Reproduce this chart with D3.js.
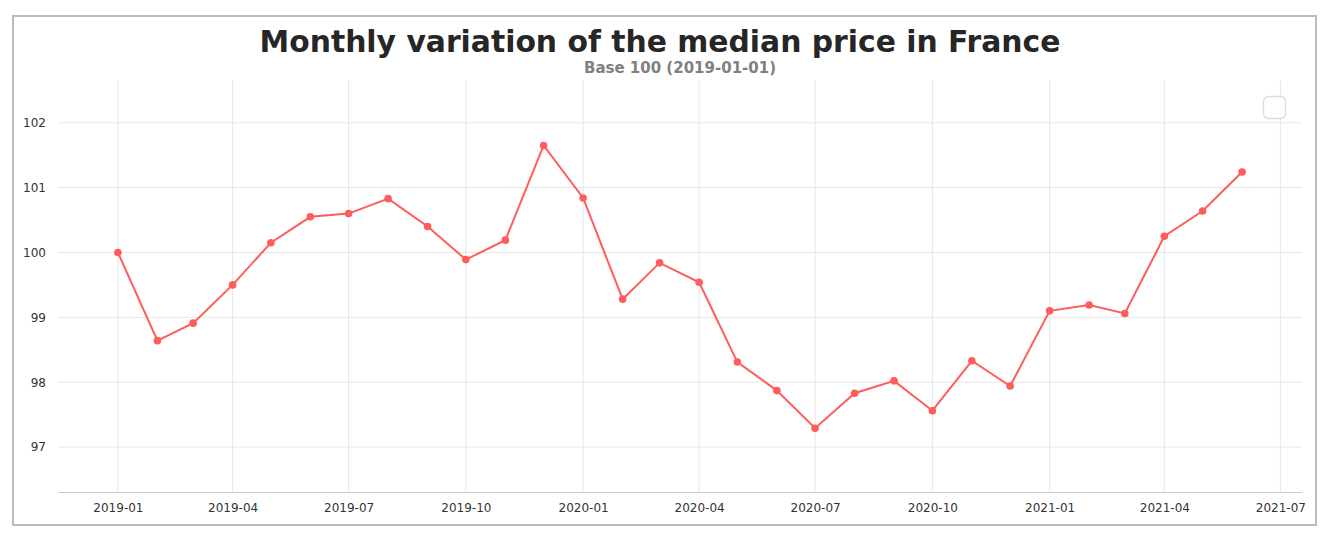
<!DOCTYPE html>
<html>
<head>
<meta charset="utf-8">
<script src="https://cdn.jsdelivr.net/npm/d3@7"></script>
<style>
  body { margin: 0; background: #fff; font-family: "DejaVu Sans", sans-serif; }
</style>
</head>
<body>
<div id="chartContainer"></div>
<script>
// monthly dates and index values (base 100 at 2019-01-01)
var months = ["2019-01","2019-02","2019-03","2019-04","2019-05","2019-06","2019-07","2019-08","2019-09","2019-10","2019-11","2019-12",
  "2020-01","2020-02","2020-03","2020-04","2020-05","2020-06","2020-07","2020-08","2020-09","2020-10","2020-11","2020-12",
  "2021-01","2021-02","2021-03","2021-04","2021-05","2021-06"]
var values = [100.0, 98.64, 98.91, 99.50, 100.15, 100.55, 100.60, 100.83, 100.40, 99.89, 100.19, 101.65,
  100.84, 99.28, 99.84, 99.54, 98.31, 97.87, 97.29, 97.83, 98.02, 97.56, 98.33, 97.94,
  99.10, 99.19, 99.06, 100.25, 100.64, 101.24]
var yTicks = [97, 98, 99, 100, 101, 102]
var xTicks = ["2019-01","2019-04","2019-07","2019-10","2020-01","2020-04","2020-07","2020-10","2021-01","2021-04","2021-07"]

var parse = d3.timeParse("%Y-%m")
var data = months.map((m, i) => ({date: parse(m), value: values[i]}))

var W = 1342, H = 544
var margin = {top: 80, right: 40, bottom: 52, left: 58}
var width = W - margin.left - margin.right
var height = H - margin.top - margin.bottom

var svg = d3.select("#chartContainer").append("svg")
  .attr("width", W)
  .attr("height", H)

// outer frame
svg.append("rect")
  .attr("x", 13).attr("y", 16)
  .attr("width", 1303).attr("height", 509)
  .attr("fill", "none")
  .attr("stroke", "#bbb")
  .attr("stroke-width", 2)

svg.append("text")
  .attr("x", 660).attr("y", 52)
  .attr("text-anchor", "middle")
  .attr("font-size", 29.8)
  .attr("font-weight", "bold")
  .attr("fill", "#262626")
  .text("Monthly variation of the median price in France")

svg.append("text")
  .attr("x", 680).attr("y", 73)
  .attr("text-anchor", "middle")
  .attr("font-size", 15)
  .attr("font-weight", "bold")
  .attr("fill", "#808080")
  .text("Base 100 (2019-01-01)")

var g = svg.append("g")
  .attr("transform", "translate(" + margin.left + "," + margin.top + ")")

var x = d3.scaleTime()
  .domain([new Date(2018, 10, 15), new Date(2021, 6, 18)])
  .range([0, width])

var y = d3.scaleLinear()
  .domain([96.306, 102.66])
  .range([height, 0])

// grid
g.selectAll(".vgrid")
  .data(xTicks)
  .enter().append("line")
  .attr("x1", d => x(parse(d))).attr("x2", d => x(parse(d)))
  .attr("y1", 0).attr("y2", height)
  .attr("stroke", "#e6e6e6")

g.selectAll(".hgrid")
  .data(yTicks)
  .enter().append("line")
  .attr("x1", 0).attr("x2", width)
  .attr("y1", d => y(d)).attr("y2", d => y(d))
  .attr("stroke", "#e6e6e6")

// X axis
var xAxis = g.append("g")
  .attr("transform", "translate(0," + height + ")")
  .call(d3.axisBottom(x).tickValues(xTicks.map(parse)).tickFormat(d3.timeFormat("%Y-%m")).tickSize(0).tickPadding(11))
xAxis.select(".domain").attr("stroke", "#ccc")
xAxis.selectAll("text").attr("font-size", 12).attr("fill", "#333").attr("font-family", "DejaVu Sans")

// Y axis
var yAxis = g.append("g")
  .call(d3.axisLeft(y).tickValues(yTicks).tickFormat(d3.format("d")).tickSize(0).tickPadding(12))
yAxis.select(".domain").remove()
yAxis.selectAll("text").attr("font-size", 12).attr("fill", "#333").attr("font-family", "DejaVu Sans")

// line
var line = d3.line()
  .x(d => x(d.date))
  .y(d => y(d.value))

g.append("path")
  .datum(data)
  .attr("fill", "none")
  .attr("stroke", "#ff5c5c")
  .attr("stroke-width", 2)
  .attr("d", line)

g.selectAll(".dot")
  .data(data)
  .enter().append("circle")
  .attr("cx", d => x(d.date))
  .attr("cy", d => y(d.value))
  .attr("r", 3.8)
  .attr("fill", "#ff5c5c")

// empty legend box
svg.append("rect")
  .attr("x", 1263.5).attr("y", 96.5)
  .attr("width", 22).attr("height", 22)
  .attr("rx", 5)
  .attr("fill", "#fff")
  .attr("stroke", "#dcdcdc")
  .attr("stroke-width", 1.3)
</script>
</body>
</html>
